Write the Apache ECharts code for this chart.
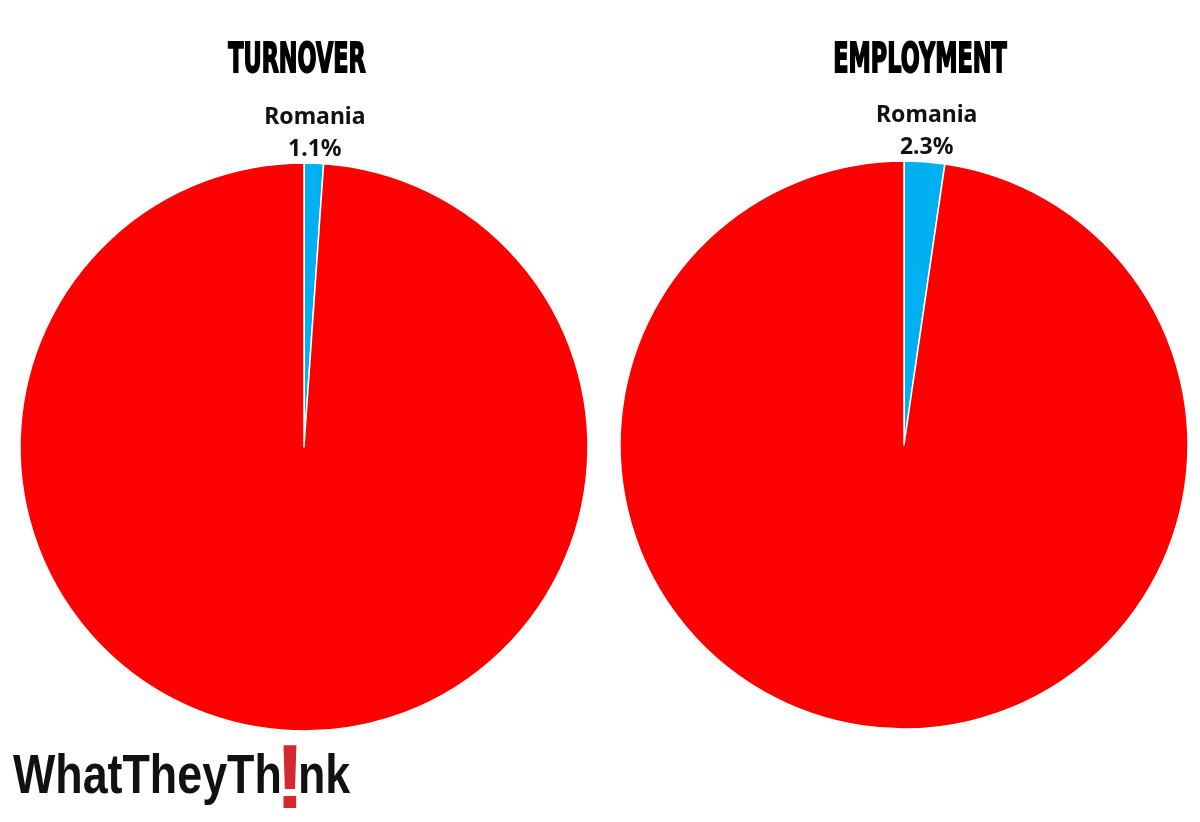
<!DOCTYPE html>
<html><head><meta charset="utf-8">
<script src="https://cdn.jsdelivr.net/npm/echarts@6/dist/echarts.min.js"></script>
<style>html,body{margin:0;padding:0;background:#fff}#c{width:1200px;height:822px}</style>
</head><body><div id="c"></div>
<script>
const categories = ['Romania', 'Other'];
const turnover = [1.1, 98.9];
const employment = [2.3, 97.7];
const titles = ['TURNOVER', 'EMPLOYMENT'];
const colors = ['#00B0F0', '#FF0000'];

function mkData(vals) {
  return categories.map((c, i) => ({
    name: c, value: vals[i],
    itemStyle: { color: colors[i] },
    label: { show: i === 0 }
  }));
}
function mkSeries(vals, center) {
  return {
    type: 'pie', center: center, radius: 284, startAngle: 90, clockwise: true,
    silent: true, animation: false,
    itemStyle: { borderColor: '#fff', borderWidth: 1.5 },
    label: {
      position: 'outside', distanceToLabelLine: 0,
      formatter: p => p.name + '\n' + p.value.toFixed(1) + '%',
      fontFamily: 'Noto Sans', fontWeight: 'bold', fontSize: 23, lineHeight: 32, color: '#111'
    },
    labelLine: { show: false, length: 30, length2: 0 },
    labelLayout: () => ({ align: 'center' }),
    data: mkData(vals)
  };
}
const titleStyle = { fontFamily: 'DejaVu Sans', fontWeight: 'bold', fontSize: 41, fill: '#000', stroke: '#000', lineWidth: 2, align: 'center', verticalAlign: 'middle' };
const chart = echarts.init(document.getElementById('c'), null, { renderer: 'canvas' });
chart.setOption({
  backgroundColor: '#fff',
  series: [mkSeries(turnover, [304, 447]), mkSeries(employment, [904, 445])],
  graphic: [
    { type: 'text', x: 297, y: 61, scaleX: 0.545, style: Object.assign({ text: titles[0] }, titleStyle) },
    { type: 'text', x: 920, y: 61, scaleX: 0.546, style: Object.assign({ text: titles[1] }, titleStyle) },
    { type: 'text', x: 13, y: 778, scaleX: 0.8, style: { text: 'WhatTheyTh', fontFamily: 'Liberation Sans', fontWeight: 'bold', fontSize: 56, fill: '#111', align: 'left', verticalAlign: 'middle' } },
    { type: 'text', x: 290, y: 783, style: { text: '!', fontFamily: 'Liberation Sans', fontWeight: 'bold', fontSize: 90, fill: '#D42A2F', align: 'center', verticalAlign: 'middle' } },
    { type: 'text', x: 298, y: 778, scaleX: 0.8, style: { text: 'nk', fontFamily: 'Liberation Sans', fontWeight: 'bold', fontSize: 56, fill: '#111', align: 'left', verticalAlign: 'middle' } }
  ]
});
</script></body></html>
